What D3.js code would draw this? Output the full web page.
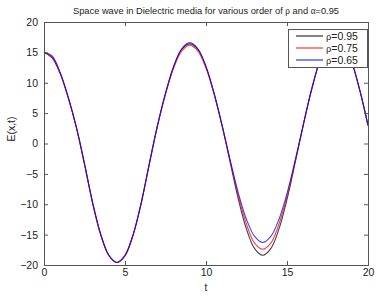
<!DOCTYPE html>
<html>
<head>
<meta charset="utf-8">
<script src="https://cdn.jsdelivr.net/npm/d3@7"></script>
<style>
  body { margin: 0; background: #fff; }
  svg { font-family: "Liberation Sans", Arial, sans-serif; }
  .sym { font-family: "Liberation Serif", "DejaVu Serif", serif; }
</style>
</head>
<body>
<svg width="379" height="296"></svg>
<script>
(function (d3) {
    'use strict';

    // values, t = 0 .. 20 step 0.5
    const t = d3.range(0, 20.01, 0.5);
    const rho95 = [15.0, 14.1, 11.5, 7.5, 2.6, -3.4, -9.8, -15.0, -18.4, -19.6, -18.4, -15.0, -9.8, -3.4,
                   2.9, 8.2, 12.6, 15.5, 16.4, 15.5, 12.6, 8.2, 2.9, -3.2, -9.2, -14.1, -17.3, -18.4,
                   -17.3, -14.1, -9.2, -3.2, 3.0, 8.7, 13.4, 16.4, 17.5, 16.4, 13.4, 8.7, 3.0];
    const rho75 = [15.0, 14.2, 11.5, 7.5, 2.6, -3.4, -9.8, -15.0, -18.4, -19.6, -18.4, -15.0, -9.8, -3.4,
                   2.8, 8.1, 12.4, 15.2, 16.2, 15.2, 12.4, 8.1, 2.8, -3.0, -8.7, -13.3, -16.4, -17.4,
                   -16.4, -13.3, -8.7, -3.0, 3.0, 8.7, 13.4, 16.4, 17.5, 16.4, 13.4, 8.7, 3.0];
    const rho65 = [15.0, 14.4, 11.7, 7.6, 2.7, -3.3, -9.7, -14.9, -18.4, -19.6, -18.5, -15.1, -9.8, -3.3,
                   2.9, 8.3, 12.7, 15.6, 16.6, 15.6, 12.7, 8.3, 2.9, -2.8, -8.2, -12.5, -15.3, -16.3,
                   -15.3, -12.5, -8.2, -2.8, 3.0, 8.7, 13.4, 16.4, 17.5, 16.4, 13.4, 8.7, 3.0];

    const seriesNames = ['0.95', '0.75', '0.65'];
    const seriesColors = ['#000000', '#ff0000', '#0000ff'];
    const seriesValues = [rho95, rho75, rho65];

    const xTicks = [0, 5, 10, 15, 20];
    const yTicks = [-20, -15, -10, -5, 0, 5, 10, 15, 20];

    const svg = d3.select('svg');
    const left = 44, right = 368, top = 22, bottom = 265;

    const x = d3.scaleLinear().domain([0, 20]).range([left, right]);
    const y = d3.scaleLinear().domain([-20, 20]).range([bottom, top]);

    // title
    const title = svg.append('text')
      .attr('x', 206).attr('y', 14)
      .attr('text-anchor', 'middle')
      .attr('font-size', 9.3)
      .attr('fill', '#222');
    title.append('tspan').text('Space wave in Dielectric media for various order of ');
    title.append('tspan').attr('class', 'sym').text('ρ');
    title.append('tspan').text(' and ');
    title.append('tspan').attr('class', 'sym').text('α');
    title.append('tspan').text('=0.95');

    // curves
    const line = d3.line()
      .x((d, i) => x(t[i]))
      .y(d => y(d))
      .curve(d3.curveCatmullRom);

    seriesValues.forEach((vals, k) => {
        svg.append('path')
          .attr('d', line(vals))
          .style('fill', 'none')
          .style('stroke', seriesColors[k])
          .style('stroke-opacity', 0.75)
          .style('stroke-width', 1.1);
    });

    // axes, ticks inside on all sides
    const tl = 4;
    svg.append('g').attr('transform', `translate(0,${bottom})`)
      .call(d3.axisBottom(x).tickValues(xTicks).tickSize(-tl).tickPadding(4).tickFormat(d3.format('d')));
    svg.append('g').attr('transform', `translate(0,${top})`)
      .call(d3.axisTop(x).tickValues(xTicks).tickSize(-tl).tickFormat(''));
    svg.append('g').attr('transform', `translate(${left},0)`)
      .call(d3.axisLeft(y).tickValues(yTicks).tickSize(-tl).tickPadding(6).tickFormat(d => d < 0 ? '\u2212' + (-d) : d));
    svg.append('g').attr('transform', `translate(${right},0)`)
      .call(d3.axisRight(y).tickValues(yTicks).tickSize(-tl).tickFormat(''));

    svg.selectAll('.domain').attr('stroke', '#555');
    svg.selectAll('.tick line').attr('stroke', '#555');
    svg.selectAll('.tick text')
      .attr('font-family', '"Liberation Sans", Arial, sans-serif')
      .attr('font-size', 10.5)
      .attr('fill', '#222');

    // axis labels
    svg.append('text')
      .attr('x', x(10)).attr('y', 291)
      .attr('text-anchor', 'middle')
      .attr('font-size', 10).attr('fill', '#222')
      .text('t');
    svg.append('text')
      .attr('transform', 'translate(15,129) rotate(-90)')
      .attr('text-anchor', 'middle')
      .attr('font-size', 10.5).attr('fill', '#222')
      .text('E(x,t)');

    // legend
    const lg = svg.append('g');
    lg.append('rect')
      .attr('x', 288.5).attr('y', 29.5).attr('width', 79).attr('height', 38)
      .style('fill', '#fff').style('stroke', '#555');
    seriesNames.forEach((name, k) => {
        const ly = 36 + k * 12;
        lg.append('rect')
          .attr('x', 296).attr('y', ly - 0.6).attr('width', 27).attr('height', 1.2)
          .style('fill', seriesColors[k]).style('fill-opacity', 0.8);
        const tx = lg.append('text')
          .attr('x', 326).attr('y', ly + 3.5)
          .attr('font-size', 10.5).attr('fill', '#222');
        tx.append('tspan').attr('class', 'sym').text('ρ');
        tx.append('tspan').text('=' + name);
    });
}(d3));
</script>
</body>
</html>
